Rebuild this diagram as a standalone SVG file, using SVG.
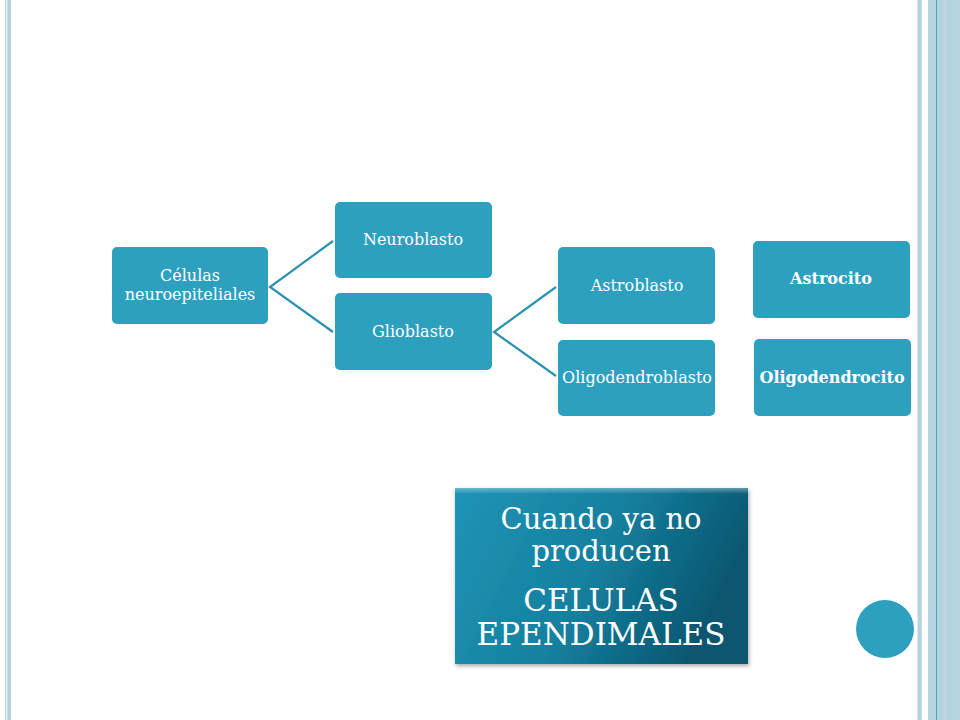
<svg xmlns="http://www.w3.org/2000/svg" width="960" height="720" viewBox="0 0 960 720">
<defs>
<style>
.node{fill:#2ea0bf}
.t{fill:#ffffff;font-family:"DejaVu Serif","Liberation Serif",serif;font-size:16px;text-anchor:middle}
.b{font-weight:bold}
.big{fill:#ffffff;font-family:"DejaVu Serif","Liberation Serif",serif;text-anchor:middle}
.conn{stroke:#2b93b0;stroke-width:2.2;fill:none}
</style>
<linearGradient id="bg" x1="0" y1="0" x2="1" y2="0.3">
<stop offset="0" stop-color="#1f94b6"/>
<stop offset="0.55" stop-color="#15809f"/>
<stop offset="1" stop-color="#0a5670"/>
</linearGradient>
<linearGradient id="hi" x1="0" y1="0" x2="0" y2="1">
<stop offset="0" stop-color="#ffffff" stop-opacity="0.35"/>
<stop offset="1" stop-color="#ffffff" stop-opacity="0"/>
</linearGradient>
<filter id="sh" x="-10%" y="-10%" width="120%" height="120%">
<feDropShadow dx="1" dy="2" stdDeviation="2" flood-color="#000" flood-opacity="0.35"/>
</filter>
</defs>
<rect width="960" height="720" fill="#ffffff"/>
<g id="borders">
<rect x="5" y="0" width="1.3" height="720" fill="#b5d3df"/>
<rect x="7.3" y="0" width="3.7" height="720" fill="#b5d3df"/>
<rect x="917.5" y="0" width="4.3" height="720" fill="#b5d3df"/>
<rect x="928" y="0" width="32" height="720" fill="#b5d3df"/>
<rect x="936" y="0" width="0.9" height="720" fill="#3a9fb8"/>
<rect x="943" y="0" width="4" height="720" fill="#bcd6e1"/>
</g>
<g id="connectors">
<polyline class="conn" points="333,241 270,287 333,332"/>
<polyline class="conn" points="556,287 494,332 556,376"/>
</g>
<g id="n1"><rect class="node" x="112" y="247" width="156" height="77" rx="5"/><text class="t" x="190" y="281">Células</text><text class="t" x="190" y="300">neuroepiteliales</text></g>
<g id="n2"><rect class="node" x="335" y="202" width="157" height="76" rx="5"/><text class="t" x="413" y="245">Neuroblasto</text></g>
<g id="n3"><rect class="node" x="335" y="293" width="157" height="77" rx="5"/><text class="t" x="413" y="337">Glioblasto</text></g>
<g id="n4"><rect class="node" x="558" y="247" width="157" height="77" rx="5"/><text class="t" x="637" y="291">Astroblasto</text></g>
<g id="n5"><rect class="node" x="558" y="340" width="157" height="76" rx="5"/><text class="t" x="637" y="383">Oligodendroblasto</text></g>
<g id="n6"><rect class="node" x="753" y="241" width="157" height="77" rx="5"/><text class="t b" x="831" y="284">Astrocito</text></g>
<g id="n7"><rect class="node" x="754" y="339" width="157" height="77" rx="5"/><text class="t b" x="832" y="383">Oligodendrocito</text></g>
<g id="n8">
<rect x="455" y="488" width="293" height="176" fill="url(#bg)" filter="url(#sh)"/>
<rect x="455" y="488" width="293" height="6" fill="url(#hi)"/>
<text class="big" x="601" y="529" font-size="29">Cuando ya no</text>
<text class="big" x="601" y="561" font-size="29">producen</text>
<text class="big" x="601" y="611" font-size="31">CELULAS</text>
<text class="big" x="601" y="645" font-size="31">EPENDIMALES</text>
</g>
<g id="dot"><circle cx="885" cy="629" r="29" fill="#2ea0bf"/></g>
</svg>
